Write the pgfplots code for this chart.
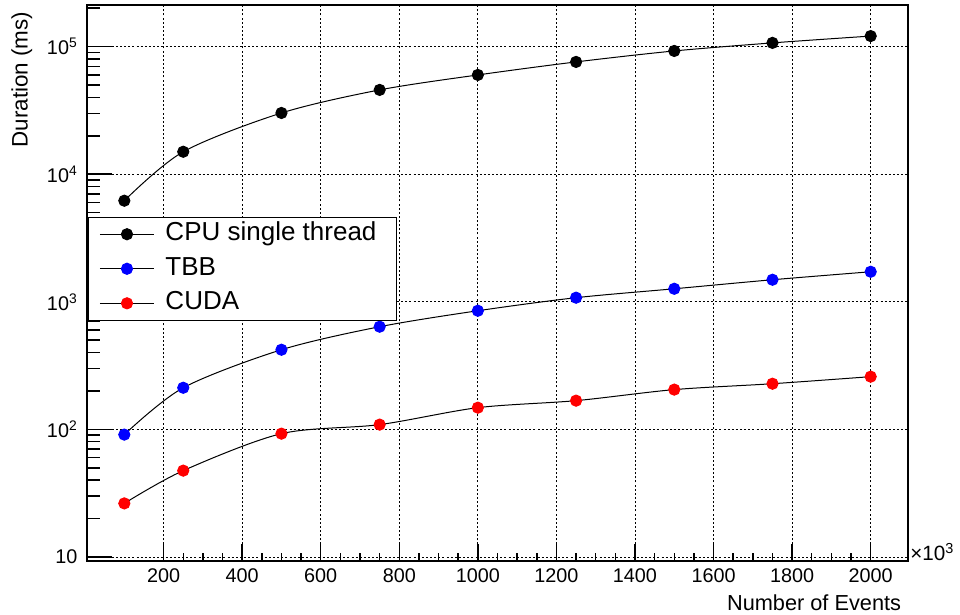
\documentclass[border=0pt]{standalone}
\usepackage{pgfplots}
\pgfplotsset{compat=1.18}
\usepackage{fontspec}
\setmainfont{Liberation Sans}

% timings, ms
\pgfplotstableread{
n     cpu     tbb    cuda
100   6200    91     26.3
250   15000   212    47.5
500   30200   421    92.6
750   45800   638    109
1000  60000   851    148
1250  75900   1077   168
1500  92500   1265   205
1750  107000  1489   228
2000  121000  1720   259
}\timings

\pgfplotsset{
    frame/.style={
        at={(0pt,0pt)}, anchor=south west,
        scale only axis,
        width=615.75pt, height=417pt,
        xmin=5, xmax=2095,
        tick align=inside,
        tick pos=left,
        ticklabel style={font=\fontsize{14.85}{16}\selectfont},
    },
}

\begin{document}
\begin{tikzpicture}
% main axis: data, grid, y ticks
\begin{axis}[
    frame,
    ymode=log,
    ymin=9.3, ymax=2.12e5,
    xtick={200,400,...,2000},
    xticklabels={},
    minor x tick num=0,
    xtick style={draw=none},
    ytick={10,100,1000,10000,100000},
    minor ytick={20,30,40,50,60,70,80,90,200,300,400,500,600,700,800,900,
        2000,3000,4000,5000,6000,7000,8000,9000,
        20000,30000,40000,50000,60000,70000,80000,90000,200000},
    yticklabels={10,10\textsuperscript{2},10\textsuperscript{3},10\textsuperscript{4},10\textsuperscript{5}},
    major tick length=18.5pt, minor tick length=9.5pt,
    ytick style={black, line width=1.1pt},
    axis line style={line width=1.1pt},
    grid=major,
    major grid style={black, line width=0.6pt, dash pattern=on 1.5pt off 1.6pt},
    minor grid style={draw=none},
    yticklabel style={inner sep=0pt, xshift=-7pt},
    ylabel={Duration (ms)},
    every axis y label/.style={at={(rel axis cs:0,1)}, anchor=base east, xshift=-44.5pt, yshift=-1.5pt, rotate=90, font=\fontsize{16.8}{18}\selectfont},
    legend style={at={(axis description cs:0.0016,0.6193)}, anchor=north west,
        draw=black, line width=0.75pt, fill=white,
        font=\fontsize{19.5}{22}\selectfont,
        inner xsep=8pt, inner ysep=3.8pt, row sep=7.9pt, column sep=8.25pt,
        nodes={inner sep=0pt, text height=14pt, text depth=4pt}},
    legend cell align=left,
    legend image code/.code={\draw[mark repeat=2,mark phase=2,#1] plot coordinates {(0pt,0pt) (20.25pt,0pt) (40.5pt,0pt)};},
]
\addplot[black, line width=0.75pt, smooth, mark=*, mark size=4.2pt, mark options={fill=black, draw=black}] table[x=n, y=cpu] {\timings};
\addlegendentry{CPU single thread\kern6.8pt\null}
\addplot[black, line width=0.75pt, smooth, mark=*, mark size=4.2pt, mark options={fill=blue, draw=blue}] table[x=n, y=tbb] {\timings};
\addlegendentry{TBB}
\addplot[black, line width=0.75pt, smooth, mark=*, mark size=4.2pt, mark options={fill=red, draw=red}] table[x=n, y=cuda] {\timings};
\addlegendentry{CUDA}
\end{axis}
% overlay: x ticks, x tick labels, x label, exponent
\begin{axis}[
    frame,
    clip=false,
    ymin=0, ymax=1,
    ytick=\empty,
    axis line style={draw=none},
    xtick={200,400,...,2000},
    xticklabels={200,400,600,800,1000,1200,1400,1600,1800,2000},
    minor x tick num=3,
    major tick length=12.5pt, minor tick length=6.25pt,
    xtick style={black, line width=1.1pt},
    xticklabel style={inner sep=0pt, yshift=-5.25pt},
    xlabel={Number of Events},
    every axis x label/.style={at={(rel axis cs:1,0)}, anchor=base east, xshift=-1.7pt, yshift=-36.75pt, font=\fontsize{16.3}{18}\selectfont},
]
\node[anchor=west, inner sep=0pt, font=\fontsize{15.5}{17}\selectfont] at ([xshift=1.5pt, yshift=6.5pt]rel axis cs:1,0) {×10\textsuperscript{3}};
\end{axis}
\pgfresetboundingbox
\path[use as bounding box] (-65.25pt,-39.75pt) rectangle (654.75pt,420.75pt);
\end{tikzpicture}
\end{document}
